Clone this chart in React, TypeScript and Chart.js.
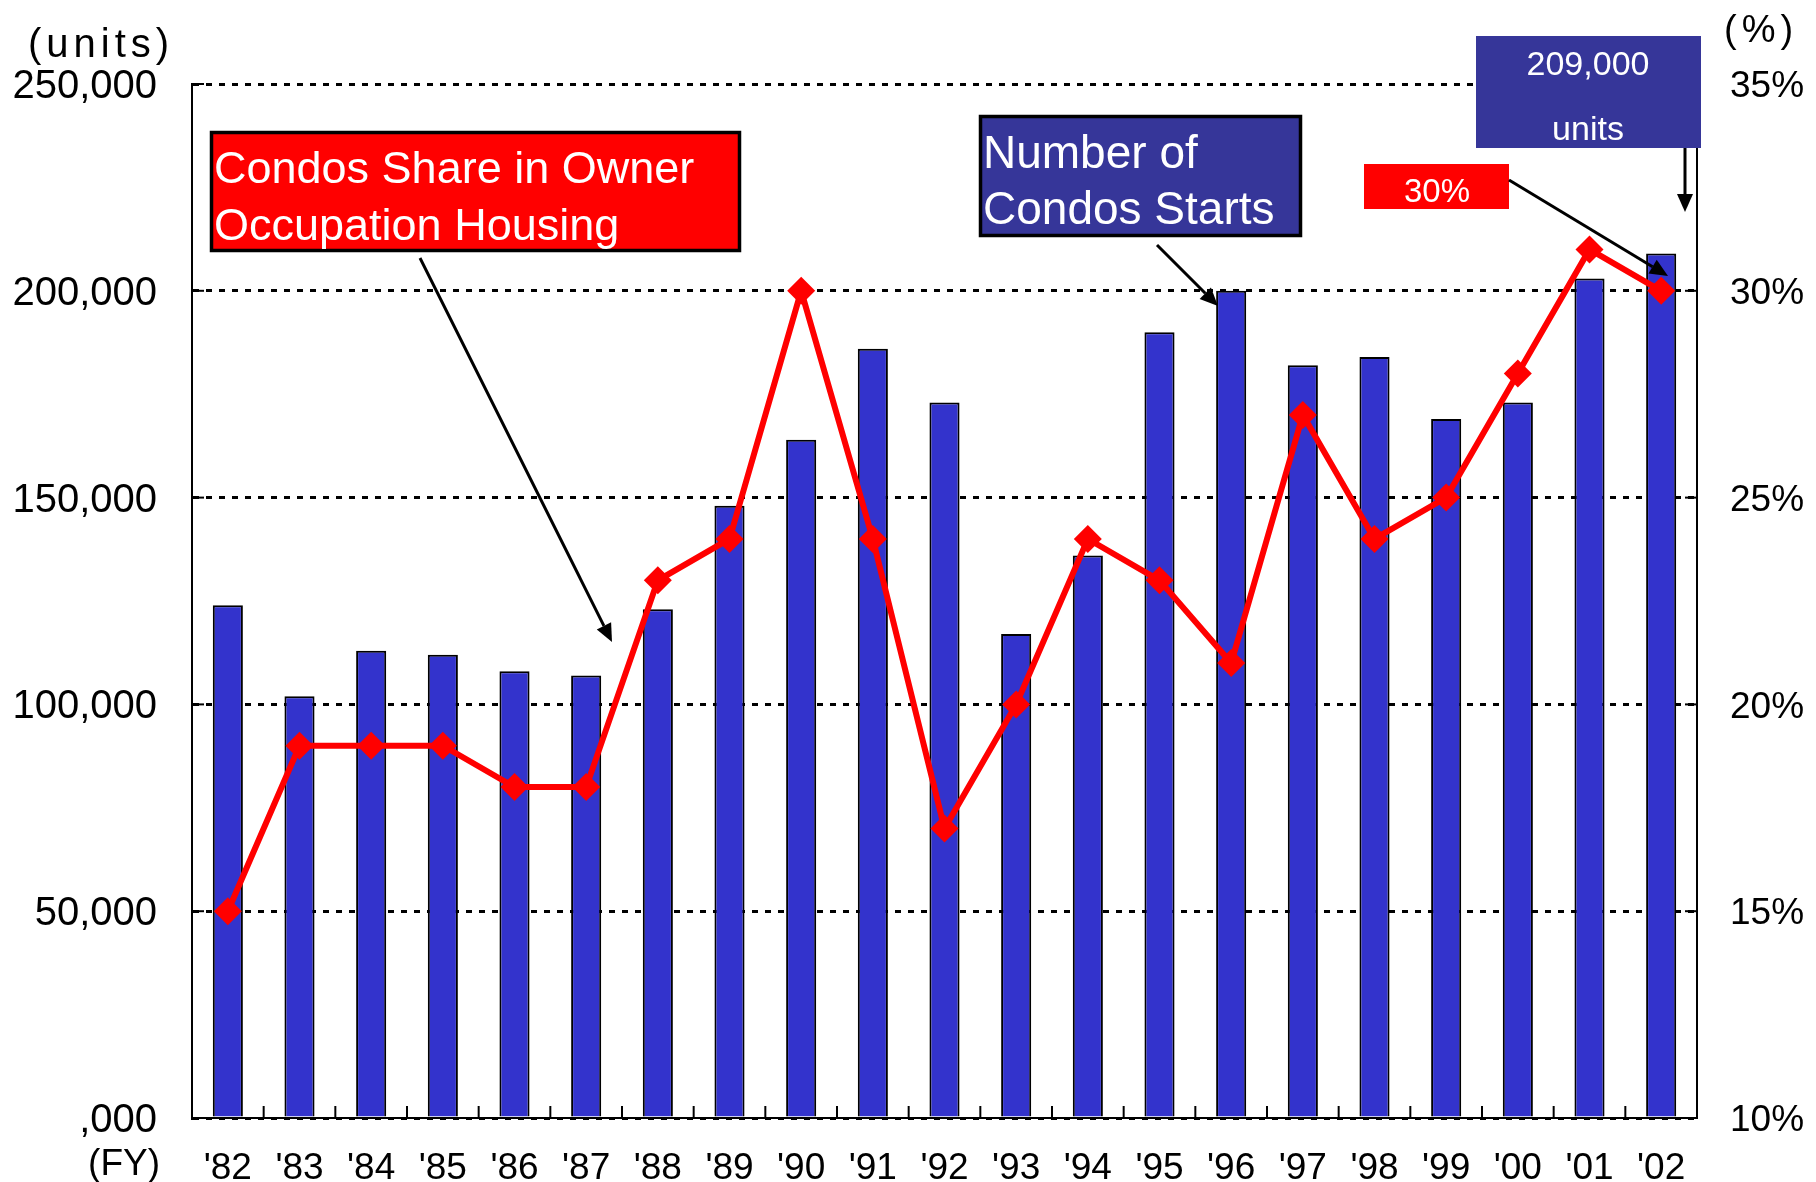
import React, { useEffect, useRef } from "react";
import { Chart, registerables } from "chart.js";

Chart.register(...registerables);

const years = ["'82", "'83", "'84", "'85", "'86", "'87", "'88", "'89", "'90", "'91", "'92", "'93", "'94", "'95", "'96", "'97", "'98", "'99", "'00", "'01", "'02"];
const condoStarts = [124000, 102000, 113000, 112000, 108000, 107000, 123000, 148000, 164000, 186000, 173000, 117000, 136000, 190000, 200000, 182000, 184000, 169000, 173000, 203000, 209000];
const condoShare = [15, 19, 19, 19, 18, 18, 23, 24, 30, 24, 17, 20, 24, 23, 21, 27, 24, 25, 28, 31, 30];
const leftTickValues = [0, 50000, 100000, 150000, 200000, 250000];
const leftTickLabels = [",000", "50,000", "100,000", "150,000", "200,000", "250,000"];
const rightTickValues = [10, 15, 20, 25, 30, 35];
const rightTickLabels = ["10%", "15%", "20%", "25%", "30%", "35%"];

const FONT = "'Liberation Sans', Arial, sans-serif";
const BLUE_BOX = "#363699";

function arrow(ctx: CanvasRenderingContext2D, x1: number, y1: number, x2: number, y2: number) {
  const ang = Math.atan2(y2 - y1, x2 - x1);
  const head = 18;
  const hw = 8;
  const bx = x2 - head * Math.cos(ang);
  const by = y2 - head * Math.sin(ang);
  ctx.save();
  ctx.strokeStyle = "#000";
  ctx.fillStyle = "#000";
  ctx.lineWidth = 3;
  ctx.beginPath();
  ctx.moveTo(x1, y1);
  ctx.lineTo(bx, by);
  ctx.stroke();
  ctx.beginPath();
  ctx.moveTo(x2, y2);
  ctx.lineTo(bx + hw * Math.sin(ang), by - hw * Math.cos(ang));
  ctx.lineTo(bx - hw * Math.sin(ang), by + hw * Math.cos(ang));
  ctx.closePath();
  ctx.fill();
  ctx.restore();
}

function box(ctx: CanvasRenderingContext2D, x1: number, y1: number, x2: number, y2: number, fill: string, border: boolean) {
  ctx.save();
  ctx.fillStyle = fill;
  ctx.fillRect(x1, y1, x2 - x1, y2 - y1);
  if (border) {
    ctx.strokeStyle = "#000";
    ctx.lineWidth = 3.5;
    ctx.strokeRect(x1 + 1.5, y1 + 1.5, x2 - x1 - 3, y2 - y1 - 3);
  }
  ctx.restore();
}

const decorPlugin = {
  id: "decor",
  afterDraw(chart: any) {
    const ctx: CanvasRenderingContext2D = chart.ctx;
    const x = chart.scales.x;
    const y = chart.scales.y;
    const y1 = chart.scales.y1;
    const area = chart.chartArea;
    ctx.save();
    ctx.strokeStyle = "#000";
    ctx.lineWidth = 2;
    ctx.setLineDash([]);
    leftTickValues.forEach((v) => {
      const py = y.getPixelForValue(v);
      ctx.beginPath();
      ctx.moveTo(area.left, py);
      ctx.lineTo(area.left + 12, py);
      ctx.stroke();
    });
    rightTickValues.forEach((v) => {
      const py = y1.getPixelForValue(v);
      ctx.beginPath();
      ctx.moveTo(area.right - 12, py);
      ctx.lineTo(area.right, py);
      ctx.stroke();
    });
    for (let i = 0; i < years.length - 1; i++) {
      const px = (x.getPixelForValue(i) + x.getPixelForValue(i + 1)) / 2;
      ctx.beginPath();
      ctx.moveTo(px, area.bottom);
      ctx.lineTo(px, area.bottom - 12);
      ctx.stroke();
    }
    ctx.restore();

    // Tick labels (positioned by the scales)
    ctx.save();
    ctx.fillStyle = "#000";
    ctx.textBaseline = "middle";
    ctx.font = `40px ${FONT}`;
    ctx.textAlign = "right";
    leftTickValues.forEach((v, i) => {
      ctx.fillText(leftTickLabels[i], area.left - 35, y.getPixelForValue(v) + 3);
    });
    ctx.font = `37px ${FONT}`;
    ctx.textAlign = "left";
    rightTickValues.forEach((v, i) => {
      ctx.fillText(rightTickLabels[i], area.right + 33, y1.getPixelForValue(v) + 3);
    });
    ctx.restore();

    // Axis titles
    ctx.save();
    ctx.fillStyle = "#000";
    ctx.textBaseline = "middle";
    ctx.font = `40px ${FONT}`;
    (ctx as any).letterSpacing = "5px";
    ctx.textAlign = "left";
    ctx.fillText("(units)", 28, 46);
    ctx.font = `38px ${FONT}`;
    ctx.fillText("(%)", 1724, 32);
    (ctx as any).letterSpacing = "0px";
    ctx.textAlign = "right";
    ctx.font = `37px ${FONT}`;
    ctx.fillText("(FY)", 160, 1165);
    ctx.restore();

    // Annotation boxes
    ctx.save();
    box(ctx, 210, 131, 741, 252, "#FF0000", true);
    box(ctx, 979, 115, 1302, 237, BLUE_BOX, true);
    box(ctx, 1476, 36, 1701, 148, BLUE_BOX, false);
    box(ctx, 1364, 164, 1509, 209, "#FF0000", false);
    ctx.fillStyle = "#fff";
    ctx.textBaseline = "alphabetic";
    ctx.textAlign = "left";
    ctx.font = `45px ${FONT}`;
    ctx.fillText("Condos Share in Owner", 214, 183);
    ctx.fillText("Occupation Housing", 214, 240);
    ctx.font = `46px ${FONT}`;
    ctx.fillText("Number of", 983, 168);
    ctx.fillText("Condos Starts", 983, 224);
    ctx.textAlign = "center";
    ctx.font = `34px ${FONT}`;
    ctx.fillText("209,000", 1588, 75);
    ctx.fillText("units", 1588, 140);
    ctx.font = `33px ${FONT}`;
    ctx.fillText("30%", 1437, 202);
    ctx.restore();

    // Arrows
    arrow(ctx, 420, 258, 612, 642);
    arrow(ctx, 1157, 245, 1218, 306);
    arrow(ctx, 1509, 180, 1668, 276);
    arrow(ctx, 1685, 148, 1685, 212);
  },
};

export default function App() {
  const ref = useRef<HTMLCanvasElement | null>(null);
  useEffect(() => {
    document.body.style.margin = "0";
    const canvas = ref.current!;
    const chart = new Chart(canvas, {
      type: "bar",
      data: {
        labels: years,
        datasets: [
          {
            type: "line",
            label: "Condos Share in Owner Occupation Housing",
            data: condoShare,
            yAxisID: "y1",
            borderColor: "#FF0000",
            borderWidth: 6,
            pointStyle: "rectRot",
            pointRadius: 14,
            pointBackgroundColor: "#FF0000",
            pointBorderColor: "#FF0000",
            pointBorderWidth: 0,
            tension: 0,
            order: 1,
          } as any,
          {
            type: "bar",
            label: "Number of Condos Starts",
            data: condoStarts,
            yAxisID: "y",
            backgroundColor: "#3333CC",
            borderColor: "#000",
            borderWidth: 2,
            barPercentage: 0.42,
            categoryPercentage: 1.0,
            order: 2,
          } as any,
        ],
      },
      options: {
        responsive: false,
        animation: false,
        devicePixelRatio: 1,
        layout: { padding: { top: 84, left: 0, right: 0, bottom: 0 } },
        plugins: { legend: { display: false }, tooltip: { enabled: false } },
        scales: {
          x: {
            grid: { display: false, drawTicks: false },
            border: { display: true, color: "#000", width: 2 },
            ticks: { color: "#000", font: { family: FONT, size: 37 }, padding: 29, maxRotation: 0, autoSkip: false },
            afterFit: (s: any) => { s.height = 64; },
          },
          y: {
            position: "left",
            min: 0,
            max: 250000,
            grid: { color: "#000", lineWidth: 3, drawTicks: false },
            border: { display: true, color: "#000", width: 2, dash: [6, 7] },
            ticks: { stepSize: 50000, display: false },
            afterFit: (s: any) => { s.width = 192; },
          },
          y1: {
            position: "right",
            min: 10,
            max: 35,
            grid: { drawOnChartArea: false, drawTicks: false },
            border: { display: true, color: "#000", width: 2 },
            ticks: { stepSize: 5, display: false },
            afterFit: (s: any) => { s.width = 119; },
          },
        },
      },
      plugins: [decorPlugin],
    });
    return () => chart.destroy();
  }, []);
  return <canvas ref={ref} width={1816} height={1182} style={{ display: "block", width: 1816, height: 1182 }} />;
}
